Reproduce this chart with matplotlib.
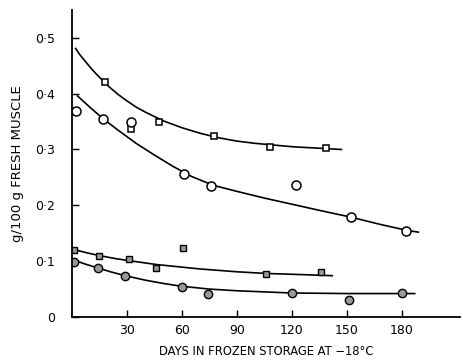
import matplotlib
matplotlib.use('Agg')
import matplotlib.pyplot as plt

# open squares
sq_days = [18, 32, 47.5, 77.5, 108, 138.5]
sq_vals = [0.421, 0.337, 0.349, 0.324, 0.305, 0.303]
sq_curve_days = [2, 4, 6, 8, 10, 13, 16, 20, 25, 30, 35, 40, 50, 60, 70, 80, 90, 100, 120, 147]
sq_curve_vals = [0.481, 0.471, 0.463, 0.455, 0.447, 0.436, 0.426, 0.413, 0.399, 0.387,
                 0.376, 0.367, 0.351, 0.339, 0.329, 0.321, 0.315, 0.311, 0.305, 0.300]

# open circles
ci_days = [2, 17, 32, 61, 76, 122, 152, 182]
ci_vals = [0.369, 0.355, 0.349, 0.256, 0.235, 0.237, 0.179, 0.154]
ci_curve_days = [3, 10, 17, 25, 35, 45, 55, 65, 77, 90, 105, 120, 135, 152, 168, 183, 189]
ci_curve_vals = [0.396, 0.375, 0.355, 0.335, 0.311, 0.290, 0.270, 0.252, 0.236, 0.225,
                 0.213, 0.202, 0.191, 0.179, 0.166, 0.155, 0.152]

# shaded squares
ssq_days = [1, 15, 31, 46, 60.5, 106, 136]
ssq_vals = [0.120, 0.109, 0.104, 0.088, 0.124, 0.077, 0.081]
ssq_curve_days = [1, 8, 15, 23, 31, 46, 58, 70, 90, 106, 125, 142]
ssq_curve_vals = [0.121, 0.115, 0.110, 0.105, 0.101, 0.094, 0.090, 0.086, 0.081, 0.078, 0.076, 0.074]

# shaded circles
sci_days = [1, 14, 29, 60, 74, 120, 151, 180]
sci_vals = [0.099, 0.088, 0.073, 0.054, 0.041, 0.043, 0.030, 0.043]
sci_curve_days = [1, 7, 14, 21, 29, 40, 50, 60, 75, 90, 105, 120, 150, 187]
sci_curve_vals = [0.102, 0.095, 0.088, 0.081, 0.074, 0.066, 0.060, 0.055, 0.050, 0.047,
                  0.045, 0.043, 0.042, 0.042]

x_ticks = [30, 60, 90, 120, 150, 180]
y_ticks = [0, 0.1, 0.2, 0.3, 0.4, 0.5]
y_tick_labels = ['0', '0·1', '0·2', '0·3', '0·4', '0·5']

fig = plt.figure(figsize=(4.63, 3.63), dpi=100)
ax = fig.add_axes([0.1555, 0.1267, 0.838, 0.846])

lw = 1.2
ax.plot(sq_curve_days, sq_curve_vals, color='black', lw=lw)
ax.plot(ci_curve_days, ci_curve_vals, color='black', lw=lw)
ax.plot(ssq_curve_days, ssq_curve_vals, color='black', lw=lw)
ax.plot(sci_curve_days, sci_curve_vals, color='black', lw=lw)

ax.plot(sq_days, sq_vals, 's', ms=5, mfc='white', mec='black', mew=1.1)
ax.plot(ci_days, ci_vals, 'o', ms=6.5, mfc='white', mec='black', mew=1.1)
ax.plot(ssq_days, ssq_vals, 's', ms=5, mfc='0.6', mec='black', mew=1.0)
ax.plot(sci_days, sci_vals, 'o', ms=6, mfc='0.6', mec='black', mew=1.0)

ax.set_xlim(0, 211.7)
ax.set_ylim(0, 0.55)
ax.spines['top'].set_visible(False)
ax.spines['right'].set_visible(False)
ax.spines['left'].set_linewidth(1.3)
ax.spines['bottom'].set_linewidth(1.3)

ax.set_xticks(x_ticks)
ax.set_xticklabels([str(t) for t in x_ticks])
ax.set_yticks(y_ticks)
ax.set_yticklabels(y_tick_labels)
ax.tick_params(direction='in', length=5, width=1.0, labelsize=9)
ax.tick_params(axis='y', pad=12)
ax.tick_params(axis='x', pad=5)

ax.set_xlabel('DAYS IN FROZEN STORAGE AT \u221218°C', fontsize=8.3, labelpad=6)
ax.set_ylabel('g/100 g FRESH MUSCLE', fontsize=9.5, labelpad=8)

fig.savefig('out.png', dpi=100)
